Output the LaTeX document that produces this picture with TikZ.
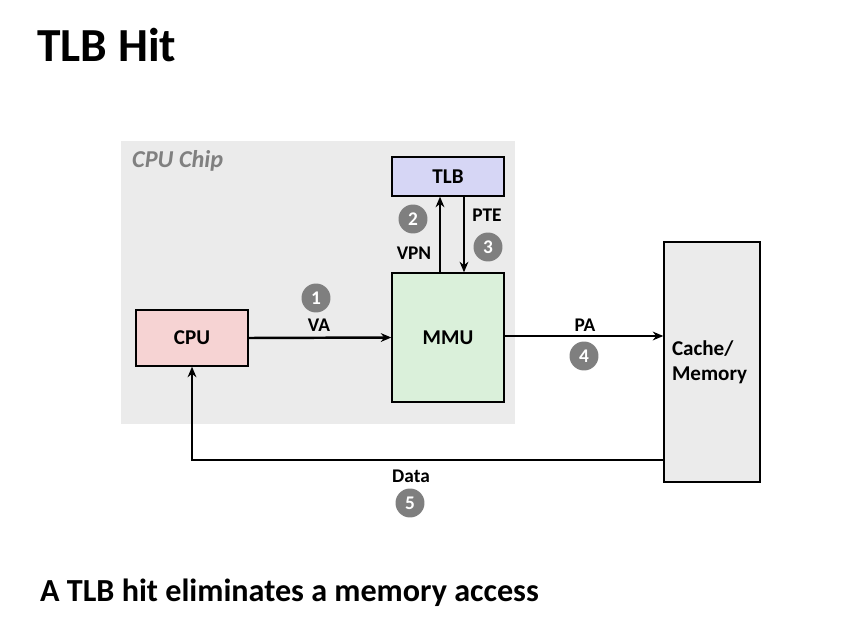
\documentclass[tikz,border=0pt]{standalone}
\usepackage{fontspec}
\setmainfont{Carlito}
\usetikzlibrary{arrows.meta}
\definecolor{chipgray}{HTML}{EBEBEB}
\definecolor{tlbblue}{HTML}{D6D6F5}
\definecolor{mmugreen}{HTML}{DAF0DA}
\definecolor{cpupink}{HTML}{F6D3D3}
\definecolor{stepgray}{HTML}{7F7F7F}
\begin{document}
\begin{tikzpicture}[x=0.02cm,y=-0.02cm,
    unit/.style={draw,line width=0.8pt,font=\bfseries\fontsize{12}{14}\selectfont},
    lbl/.style={font=\bfseries\fontsize{11}{13}\selectfont},
    num/.style={circle,fill=stepgray,text=white,inner sep=0pt,minimum size=0.58cm,font=\bfseries\fontsize{11}{13}\selectfont},
    link/.style={line width=1.4pt,-{Stealth[length=6pt,width=5pt]}}]
    \useasboundingbox (0,0) rectangle (860,625);
    \node[anchor=west,font=\bfseries\fontsize{27}{31}\selectfont] (title) at (31,45) {TLB Hit};
    % the chip
    \fill[chipgray] (121,141) rectangle (515,424);
    \node[anchor=west,text=gray,font=\bfseries\itshape\fontsize{13.8}{16}\selectfont] (chip) at (126,161) {CPU Chip};
    \node[unit,fill=tlbblue,minimum width=2.24cm,minimum height=0.78cm] (tlb) at (448,176.5) {TLB};
    \node[unit,fill=mmugreen,minimum width=2.24cm,minimum height=2.58cm] (mmu) at (448,337.5) {MMU};
    \node[unit,fill=cpupink,minimum width=2.24cm,minimum height=1.12cm] (cpu) at (192,338) {CPU};
    \node[unit,fill=chipgray,minimum width=1.92cm,minimum height=4.8cm,align=left,text width=1.6cm] (mem) at (712,362) {Cache/\\Memory};
    % connectors
    \draw[link] (cpu.east) -- (mmu.west);
    \draw[link] ([xshift=-0.16cm]mmu.north) -- ([xshift=-0.16cm]tlb.south);
    \draw[link] ([xshift=0.32cm]tlb.south) -- ([xshift=0.32cm]mmu.north);
    \draw[link] ([yshift=0.03cm]mmu.east) -- ([yshift=0.03cm]mmu.east -| mem.west);
    \draw[link] ([yshift=-1.96cm]mem.west) -| (cpu.south);
    % labels
    \node[num] (n1) at (316,298) {1};
    \node[lbl] (va) at (319,325) {VA};
    \node[num] (n2) at (413,219) {2};
    \node[lbl] (vpn) at (414,253) {VPN};
    \node[lbl] (pte) at (487,215) {PTE};
    \node[num] (n3) at (488,247) {3};
    \node[lbl] (pa) at (585,325) {PA};
    \node[num] (n4) at (584,356) {4};
    \node[lbl] (data) at (411,476) {Data};
    \node[num] (n5) at (410,503) {5};
    \node[anchor=west,font=\bfseries\fontsize{18.3}{21}\selectfont] (note) at (34,593) {A TLB hit eliminates a memory access};
\end{tikzpicture}
\end{document}
